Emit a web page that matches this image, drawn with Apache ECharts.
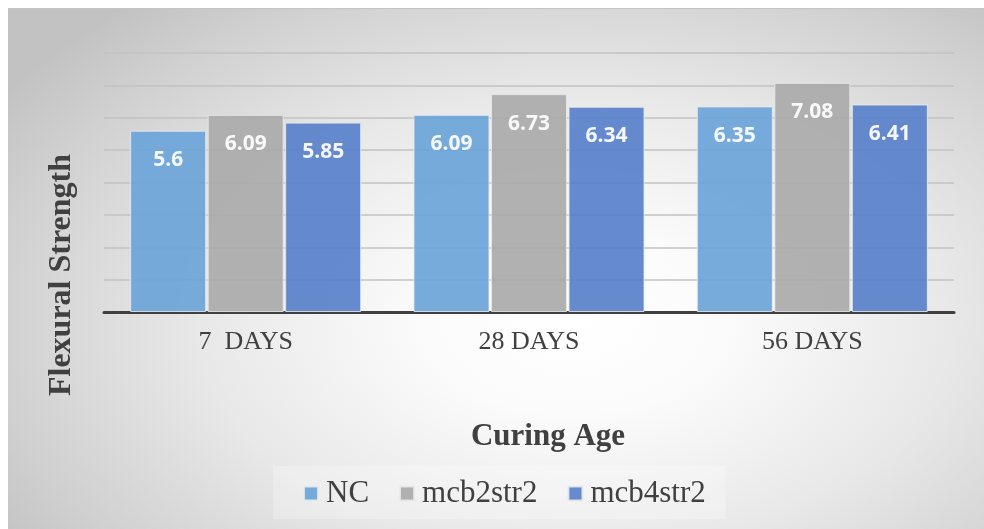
<!DOCTYPE html>
<html>
<head>
<meta charset="utf-8">
<script src="https://cdn.jsdelivr.net/npm/echarts@6/dist/echarts.min.js"></script>
<style>
  html, body { margin:0; padding:0; background:#ffffff; }
  #bg { position:absolute; left:8px; top:8px; width:976px; height:521px;
        border-top:1px solid #c4c4c4;
        background: radial-gradient(ellipse 70% 80% at 58% 60%, #ffffff 0%, #fbfbfb 22%, #e8e8e8 55%, #d0d0d0 85%, #c2c2c2 100%); }
  #chart { position:absolute; left:0; top:0; width:984px; height:529px; }
</style>
</head>
<body>
<div id="bg"></div>
<div id="chart"></div>
<script>
const categories = ['7  DAYS', '28 DAYS', '56 DAYS'];
const seriesNames = ['NC', 'mcb2str2', 'mcb4str2'];
const ncValues = [5.6, 6.09, 6.35];
const mcb2Values = [6.09, 6.73, 7.08];
const mcb4Values = [5.85, 6.34, 6.41];
const colors = ['#6CA5D9', '#ABABAB', '#5981CA'];

const chart = echarts.init(document.getElementById('chart'), null, {renderer:'canvas'});
const serif = '"Liberation Serif", "Times New Roman", serif';
function mk(name, data, color) {
  return {
    name: name, type: 'bar', data: data,
    barWidth: 76, barGap: '2%',
    itemStyle: { color: color, opacity: 0.93, borderColor: 'rgba(235,235,235,0.9)', borderWidth: 1 },
    label: { show: true, position: 'insideTop', distance: 19, color: '#ffffff',
             fontFamily: '"Open Sans", sans-serif', fontWeight: 'bold', fontSize: 21,
             formatter: p => String(p.value) }
  };
}
chart.setOption({
  backgroundColor: 'transparent',
  animation: false,
  color: colors,
  grid: { left: 104, right: 30, top: 53, bottom: 217 },
  xAxis: {
    type: 'category', data: categories,
    axisLine: { lineStyle: { color: '#404040', width: 3 } },
    axisTick: { show: false },
    axisLabel: { color: '#404040', fontFamily: serif, fontSize: 26, margin: 17 }
  },
  yAxis: {
    type: 'value', min: 0, max: 8, interval: 1,
    axisLabel: { show: false }, axisLine: { show: false }, axisTick: { show: false },
    splitLine: { lineStyle: { color: '#c2c2c2', width: 1.5 } }
  },
  legend: {
    data: seriesNames, left: 273, top: 466,
    icon: 'rect', itemWidth: 14, itemHeight: 14, itemGap: 30,
    padding: [12, 20, 10, 30],
    backgroundColor: 'rgba(255,255,255,0.25)',
    textStyle: { color: '#404040', fontFamily: serif, fontSize: 31, padding: [0,0,0,3] }
  },
  graphic: [
    { type: 'text', x: 548, y: 437, style: { text: 'Curing Age', fill: '#404040', font: 'bold 31px ' + serif, textAlign: 'center', textVerticalAlign: 'middle' } },
    { type: 'text', x: 62, y: 275, rotation: Math.PI / 2, style: { text: 'Flexural Strength', fill: '#404040', font: 'bold 32px ' + serif, textAlign: 'center', textVerticalAlign: 'middle' } }
  ],
  series: [
    mk(seriesNames[0], ncValues, colors[0]),
    mk(seriesNames[1], mcb2Values, colors[1]),
    mk(seriesNames[2], mcb4Values, colors[2])
  ]
});
</script>
</body>
</html>
